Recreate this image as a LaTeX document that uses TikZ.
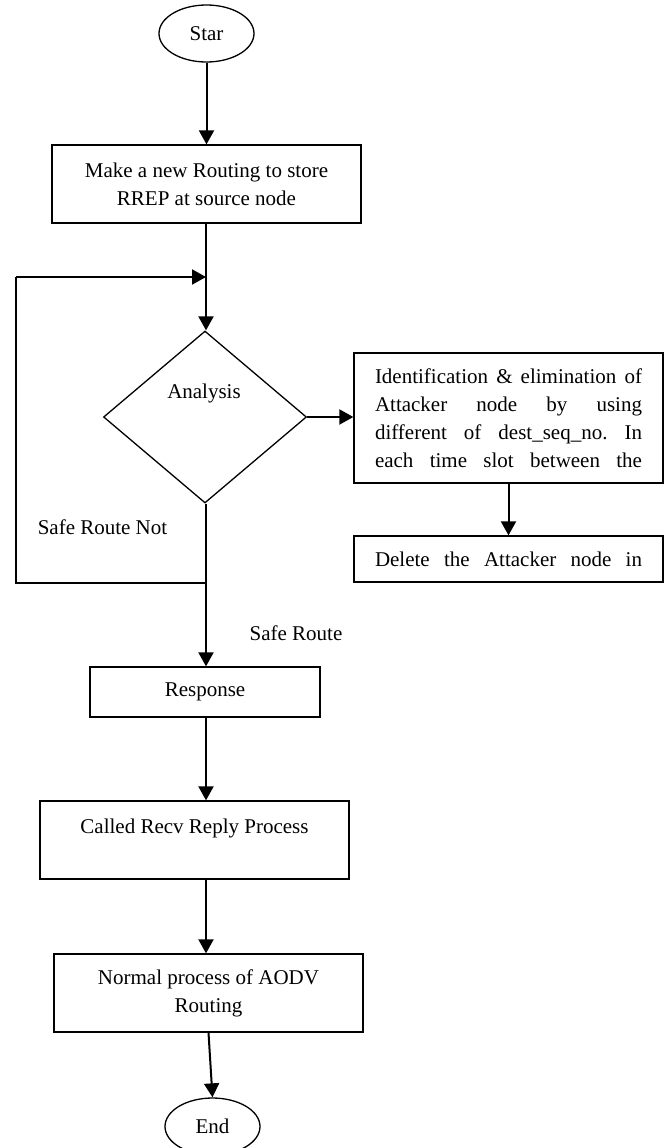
\documentclass[tikz,border=0pt]{standalone}
\usepackage{fontspec}
\setmainfont{Liberation Serif}
\usetikzlibrary{shapes.geometric,arrows.meta}
\frenchspacing

\begin{document}
\begin{tikzpicture}[x=1pt,y=-1pt,
  font=\fontsize{21}{28}\selectfont,
  box/.style={draw,line width=1.3pt,rectangle,inner sep=0pt,align=center},
  term/.style={draw,line width=1.3pt,ellipse,inner sep=0pt,
    minimum width=95pt,minimum height=57pt},
  flow/.style={line width=2pt,-{Triangle[length=14pt,width=15pt]}},
  link/.style={line width=2pt},
  lbl/.style={inner sep=0pt},
]
\useasboundingbox (0,0) rectangle (665,1148);

% main column
\coordinate (axis) at (206,0);

\node[term] (start) at (206.5,33.5) {Star};
\node[box,minimum width=309pt,minimum height=78pt] (make) at (206.5,184)
  {Make a new Routing to store\\RREP at source node};
\node[draw,line width=1.3pt,diamond,inner sep=0pt,
  minimum width=203pt,minimum height=172pt] (dia) at (205,417) {};
\node[lbl] (anl) at (204,393) {Analysis};

% attacker branch
\node[box,minimum width=309pt,minimum height=130pt] (ident) at (508.5,418)
  {\makebox[267pt][s]{Identification \& elimination of}\\
   \makebox[267pt][s]{Attacker node by using}\\
   \makebox[267pt][s]{different of dest\_seq\_no. In}\\
   \makebox[267pt][s]{each time slot between the}};
\node[box,minimum width=309pt,minimum height=46pt] (del) at (508.5,559)
  {\makebox[267pt][s]{Delete the Attacker node in}};

\node[box,minimum width=230pt,minimum height=50pt] (resp) at (205,692) {Response};
\node[box,minimum width=309pt,minimum height=78pt] (called) at (194.5,840)
  {Called Recv Reply Process\\\mbox{}};
\node[box,minimum width=309pt,minimum height=78pt] (norm) at (208.5,993)
  {Normal process of AODV\\Routing};
\node[term] (end) at (212.5,1126.5) {End};

% edge labels
\node[lbl] (notsafe) at (102.5,527) {Safe Route Not};
\node[lbl] (safe) at (296,633) {Safe Route};

% loop corner points
\coordinate (loopin) at (206,277);
\coordinate (loopout) at (206,583);
\coordinate (loopleft) at (16,277);

% connectors
\draw[flow] (start) -- (start |- make.north);
\draw[flow] (axis |- make.south) -- (axis |- dia.north);
\draw[link] (loopout) -| (loopleft);
\draw[flow] (loopleft) -- (loopin);
\draw[flow] (dia.east) -- (ident.west |- dia.east);
\draw[flow] (ident.south) -- (del.north);
\draw[flow] (axis |- dia.south) -- (axis |- resp.north);
\draw[flow] (axis |- resp.south) -- (axis |- called.north);
\draw[flow] (axis |- called.south) -- (axis |- norm.north);
\draw[flow] (norm.south) -- (end.north);
\end{tikzpicture}
\end{document}
